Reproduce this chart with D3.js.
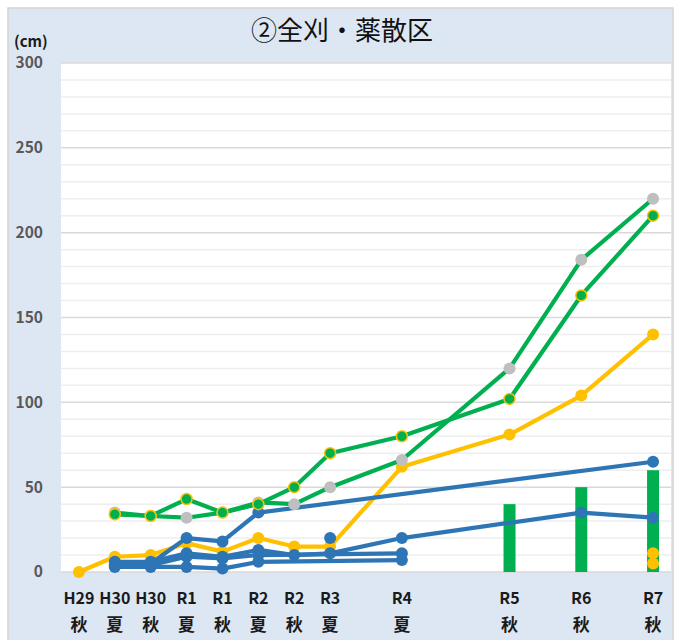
<!DOCTYPE html>
<html lang="ja">
<head>
<meta charset="UTF-8">
<title>②全刈・薬散区</title>
<script src="https://d3js.org/d3.v7.min.js"></script>
<style>
  body { margin: 0; background: #ffffff; }
  svg { display: block; font-family: "Noto Sans CJK JP", "Noto Sans", sans-serif; }
</style>
</head>
<body>
<svg id="chart"></svg>
<script>
// survey periods (x categories) and their position on the half-year timeline
const periodYears   = ["H29", "H30", "H30", "R1", "R1", "R2", "R2", "R3", "R4", "R5", "R6", "R7"];
const periodSeasons = ["秋", "夏", "秋", "夏", "秋", "夏", "秋", "夏", "夏", "秋", "秋", "秋"];
const periodSteps   = [0, 1, 2, 3, 4, 5, 6, 7, 9, 12, 14, 16];

// plant heights (cm), null = not measured
const greenMain = [null, 34, 33, 43, 35, 40, 50, 70, 80, 102, 163, 210];
const greenGray = [null, 35, 33, 32, 35, 41, 40, 50, 66, 120, 184, 220];
const yellowMain = [0, 9, 10, 17, 12, 20, 15, 15, 62, 81, 104, 140];
const yellowDotA = [null, null, null, null, null, null, null, null, null, null, null, 11];
const yellowDotB = [null, null, null, null, null, null, null, null, null, null, null, 5];
const blueA = [null, 5, 5, 20, 18, 35, null, null, null, null, null, 65];
const blueB = [null, 6, 6, 11, 9, 13, 10, 11, 20, null, 35, 32];
const blueC = [null, 4, 4, 9, 8, 10, null, null, 11, null, null, null];
const blueD = [null, 3, 3, 3, 2, 6, null, null, 7, null, null, null];
const blueE = [null, null, null, null, null, null, null, 20, null, null, null, null];
const barValues = [null, null, null, null, null, null, null, null, null, 40, 50, 60];

const yTicks = [0, 50, 100, 150, 200, 250, 300];

const W = 681, H = 640;
const plot = { left: 61, right: 671, top: 63, bottom: 572 };

const svg = d3.select("#chart").attr("width", W).attr("height", H);

// outer panel
svg.append("rect")
  .attr("x", 8).attr("y", 8).attr("width", 665).attr("height", 640)
  .attr("fill", "#dde7f3").attr("stroke", "#d4d4d4").attr("stroke-width", 1.5);

svg.append("rect")
  .attr("x", plot.left).attr("y", plot.top)
  .attr("width", plot.right - plot.left).attr("height", plot.bottom - plot.top)
  .attr("fill", "#ffffff");

const x = d3.scaleLinear().domain([-0.5, 16.5]).range([plot.left, plot.right]);
const y = d3.scaleLinear().domain([0, 300]).range([plot.bottom, plot.top]);

// minor gridlines every 10, major every 50
svg.append("g").selectAll("line")
  .data(d3.range(10, 300, 10).filter(v => v % 50 !== 0))
  .join("line")
  .attr("x1", plot.left).attr("x2", plot.right)
  .attr("y1", d => y(d)).attr("y2", d => y(d))
  .attr("stroke", "#eeeeee").attr("stroke-width", 1.5);

svg.append("g").selectAll("line")
  .data(yTicks)
  .join("line")
  .attr("x1", plot.left).attr("x2", plot.right)
  .attr("y1", d => y(d)).attr("y2", d => y(d))
  .attr("stroke", "#d9d9d9").attr("stroke-width", 1.5);

// y axis labels
const yAxis = svg.append("g")
  .attr("transform", `translate(${plot.left},0)`)
  .call(d3.axisLeft(y).tickValues(yTicks).tickSize(0).tickPadding(18));
yAxis.select(".domain").remove();
yAxis.selectAll("text")
  .attr("font-size", 15.5).attr("font-weight", "bold").attr("fill", "#595959")
  .attr("font-family", "Noto Sans CJK JP");

svg.append("text")
  .attr("x", 14).attr("y", 47)
  .attr("font-size", 15).attr("font-weight", "bold").attr("fill", "#1a1a1a")
  .text("(cm)");

// title
svg.append("text")
  .attr("x", 342).attr("y", 40)
  .attr("text-anchor", "middle")
  .attr("font-size", 26).attr("fill", "#111111")
  .text("②全刈・薬散区");

// x axis labels (two lines)
const xLab = svg.append("g").selectAll("g")
  .data(periodSteps.map((s, i) => ({ s, yr: periodYears[i], se: periodSeasons[i] })))
  .join("g")
  .attr("transform", d => `translate(${x(d.s)},0)`);
xLab.append("text")
  .attr("y", 604).attr("text-anchor", "middle")
  .attr("font-size", 16).attr("font-weight", "bold").attr("fill", "#1a1a1a")
  .text(d => d.yr);
xLab.append("text")
  .attr("y", 631).attr("text-anchor", "middle")
  .attr("font-size", 17).attr("font-weight", "bold").attr("fill", "#1a1a1a")
  .text(d => d.se);

// bars
const barW = 12;
svg.append("g").selectAll("rect")
  .data(periodSteps.map((s, i) => ({ s, v: barValues[i] })).filter(d => d.v != null))
  .join("rect")
  .attr("x", d => x(d.s) - barW / 2)
  .attr("y", d => y(d.v))
  .attr("width", barW)
  .attr("height", d => y(0) - y(d.v))
  .attr("fill", "#00b050");

function points(values) {
  return periodSteps.map((s, i) => ({ s, v: values[i] })).filter(d => d.v != null);
}

const line = d3.line().x(d => x(d.s)).y(d => y(d.v));

function drawSeries(values, lineColor, markerFill, markerStroke, r) {
  const pts = points(values);
  const g = svg.append("g");
  if (lineColor && pts.length > 1) {
    g.append("path").datum(pts)
      .attr("d", line)
      .attr("fill", "none")
      .attr("stroke", lineColor)
      .attr("stroke-width", 4.2)
      .attr("stroke-linejoin", "round");
  }
  g.selectAll("circle").data(pts).join("circle")
    .attr("cx", d => x(d.s)).attr("cy", d => y(d.v))
    .attr("r", r)
    .attr("fill", markerFill)
    .attr("stroke", markerStroke || "none")
    .attr("stroke-width", markerStroke ? 1.5 : 0);
}

const BLUE = "#2e75b6", YELLOW = "#ffc000", GREEN = "#00b050", GRAY = "#bfbfbf";

drawSeries(yellowMain, YELLOW, YELLOW, null, 6);
drawSeries(yellowDotA, null, YELLOW, null, 6);
drawSeries(yellowDotB, null, YELLOW, null, 6);
drawSeries(blueD, BLUE, BLUE, null, 6);
drawSeries(blueC, BLUE, BLUE, null, 6);
drawSeries(blueB, BLUE, BLUE, null, 6);
drawSeries(blueA, BLUE, BLUE, null, 6);
drawSeries(blueE, BLUE, BLUE, null, 6);
drawSeries(greenGray, GREEN, GRAY, null, 6);
drawSeries(greenMain, GREEN, GREEN, YELLOW, 5.5);
</script>
</body>
</html>
